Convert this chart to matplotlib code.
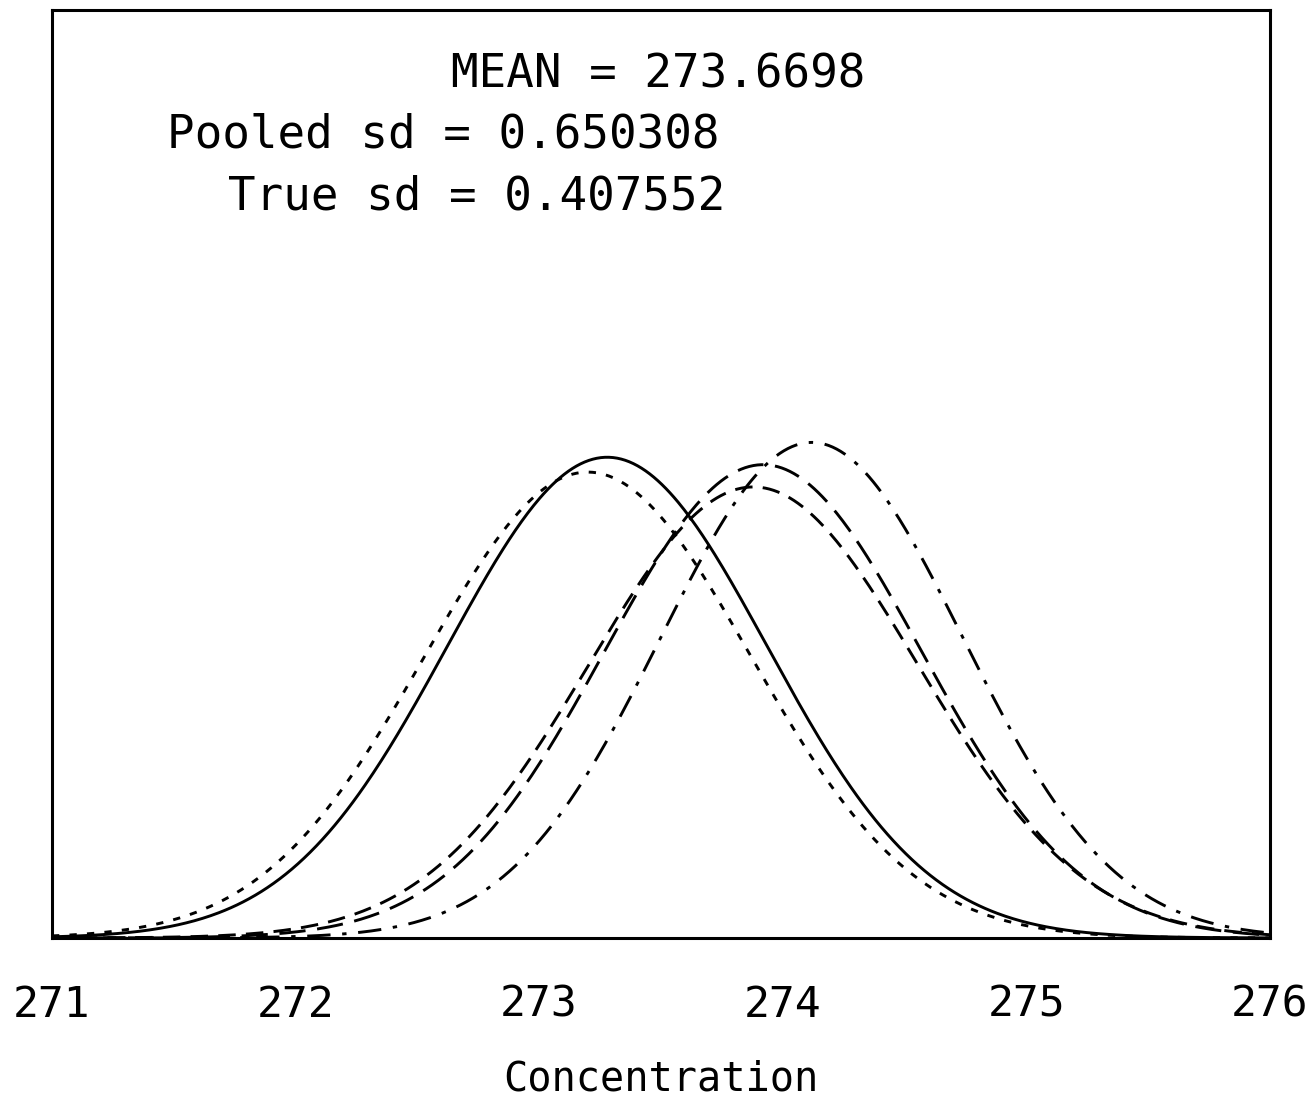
import numpy as np
import matplotlib
matplotlib.use("Agg")
import matplotlib.pyplot as plt

# five fitted normal curves
means = [273.28, 273.20, 273.92, 273.88, 274.12]
sds = [0.657, 0.668, 0.650, 0.675, 0.620]
peaks = [0.518, 0.502, 0.510, 0.486, 0.534]
styles = ["-", (0, (2.5, 3.5)), (0, (9, 4)), (0, (6, 3.5)), (0, (8, 4, 1.5, 4))]

xticks = [271, 272, 273, 274, 275, 276]
stats_lines = ["MEAN = 273.6698", "Pooled sd = 0.650308", "True sd = 0.407552"]

mono = "DejaVu Sans Mono"

fig = plt.figure(figsize=(13.14, 11.04), dpi=100)
ax = fig.add_axes([0.0396, 0.1504, 0.9266, 0.8406])

x = np.linspace(271, 276, 600)
for m, s, p, ls in zip(means, sds, peaks, styles):
    y = p * np.exp(-0.5 * ((x - m) / s) ** 2)
    ax.plot(x, y, color="black", lw=2.1, linestyle=ls)

ax.set_xlim(271, 276)
ax.set_ylim(0, 1)
ax.set_yticks([])
ax.set_xticks(xticks)
ax.set_xticklabels([str(t) for t in xticks], fontfamily=mono, fontsize=31)
ax.tick_params(axis="x", length=0, pad=33)
for sp in ax.spines.values():
    sp.set_linewidth(2.2)

ax.set_xlabel("Concentration", fontfamily=mono, fontsize=29, labelpad=24)

# stats box text, centred where the reference lines sit
centers = [(0.498, 0.930), (0.321, 0.865), (0.349, 0.798)]
for txt, (cx, cy) in zip(stats_lines, centers):
    ax.text(cx, cy, txt, transform=ax.transAxes, ha="center", va="center",
            fontfamily=mono, fontsize=33)

fig.savefig("out.png", dpi=100)
